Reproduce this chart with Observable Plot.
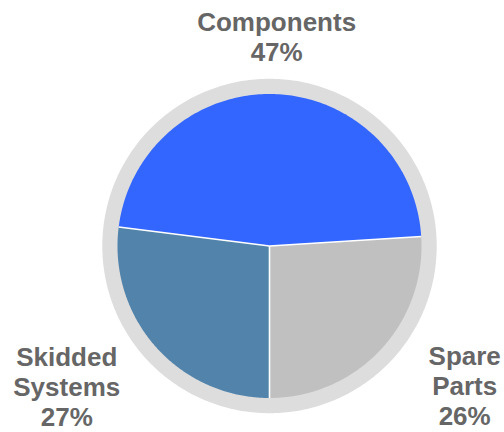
<!DOCTYPE html>
<html><head><meta charset="utf-8">
<script src="https://cdn.jsdelivr.net/npm/d3@7"></script>
<script src="https://cdn.jsdelivr.net/npm/@observablehq/plot@0.6"></script>
<style>html,body{margin:0;padding:0;background:#fff;overflow:hidden}</style>
</head><body><div id="chart"></div>
<script>
// Data
const categories = ["Skidded Systems", "Components", "Spare Parts"];
const shares = [27, 47, 26];
const labelLines = [["Skidded", "Systems"], ["Components"], ["Spare", "Parts"]];
const sliceColors = ["#5283AA", "#3366FF", "#C0C0C0"];

// Layout (in units of pie radius)
const ringRadius = 1.1;
const labelPos = [[-1.334, -0.924], [0.047, 1.376], [1.284, -0.918]];

const data = categories.map((c, i) => ({category: c, value: shares[i], i}));
const arcs = d3.pie().sort(null).value(d => d.value)
  .startAngle(Math.PI).endAngle(3 * Math.PI)(data);

const slicePts = [];
arcs.forEach(a => {
  const n = 180;
  slicePts.push({category: a.data.category, x: 0, y: 0});
  for (let k = 0; k <= n; k++) {
    const t = a.startAngle + (a.endAngle - a.startAngle) * k / n;
    slicePts.push({category: a.data.category, x: Math.sin(t), y: Math.cos(t)});
  }
  slicePts.push({category: a.data.category, x: 0, y: 0});
});
const ringPts = d3.range(0, 361).map(k => {
  const t = k * Math.PI / 180;
  return {x: ringRadius * Math.sin(t), y: ringRadius * Math.cos(t)};
});
const seps = arcs.map(a => ({x1: 0, y1: 0, x2: Math.sin(a.startAngle), y2: Math.cos(a.startAngle)}));
const labels = arcs.map((a, i) => ({
  text: [...labelLines[i], `${a.data.value}%`].join("\n"),
  x: labelPos[i][0], y: labelPos[i][1]
}));

const chart = Plot.plot({
  width: 504, height: 432,
  marginLeft: 117, marginRight: 83, marginTop: 93.5, marginBottom: 34.5,
  x: {domain: [-1, 1], axis: null},
  y: {domain: [-1, 1], axis: null},
  color: {domain: categories, range: sliceColors},
  marks: [
    Plot.line(ringPts, {x: "x", y: "y", fill: "#DDDDDD", stroke: "none"}),
    Plot.line(slicePts, {x: "x", y: "y", z: "category", fill: "category", stroke: "none", curve: "linear"}),
    Plot.link(seps, {x1: "x1", y1: "y1", x2: "x2", y2: "y2", stroke: "white", strokeWidth: 1.6}),
    Plot.text(labels, {x: "x", y: "y", text: "text", fontSize: 26, fontWeight: "bold",
      fill: "#666666", fontFamily: "Liberation Sans, Arial, sans-serif", lineHeight: 1.15, textAnchor: "middle"})
  ]
});
document.getElementById("chart").appendChild(chart);
</script>
</body></html>
